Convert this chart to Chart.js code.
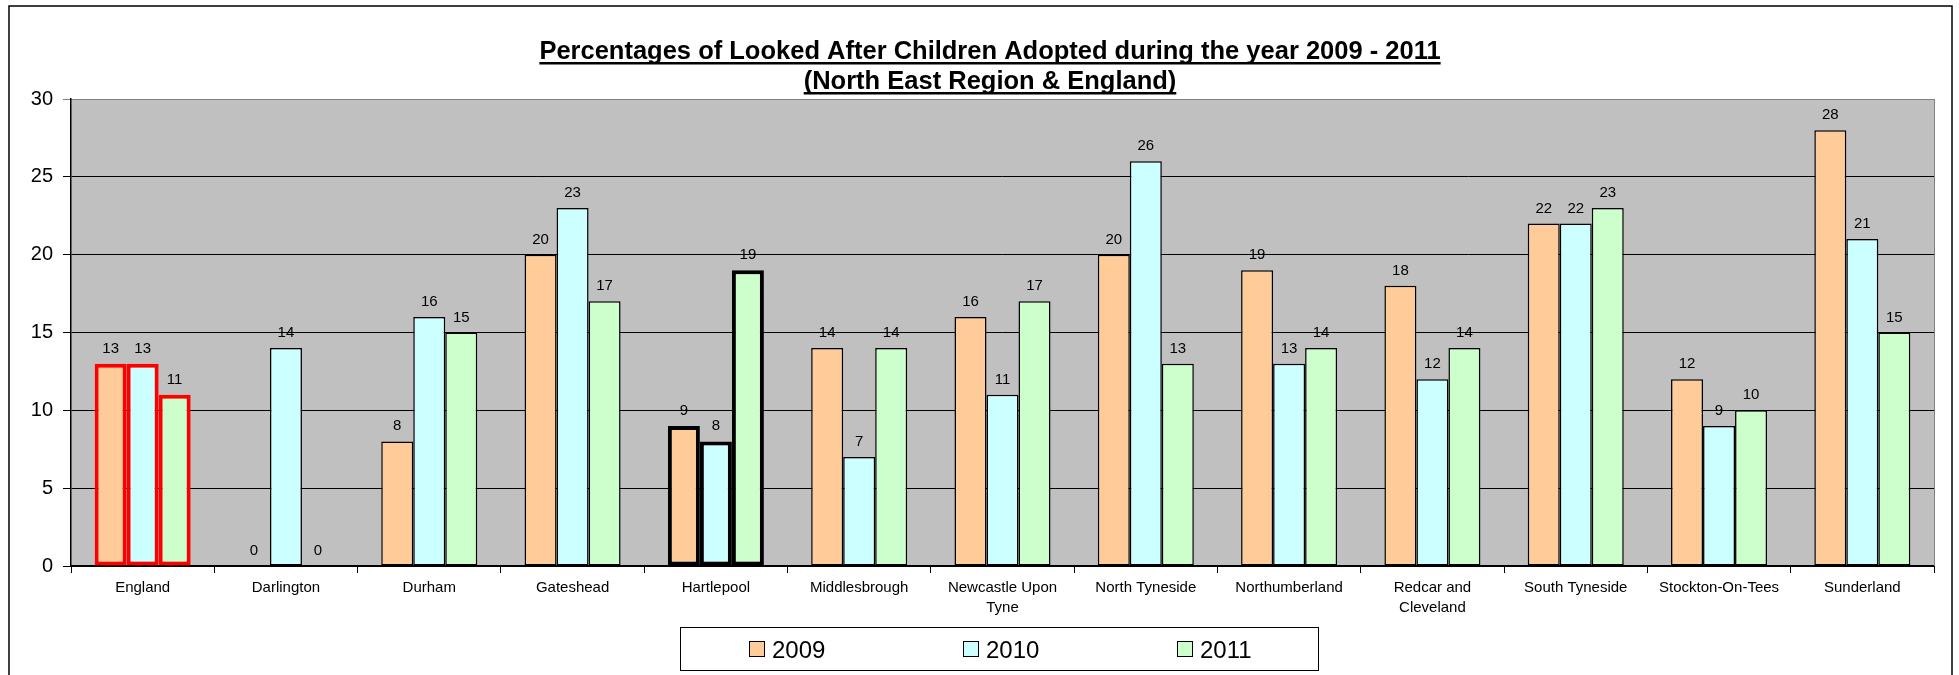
<!DOCTYPE html>
<html>
<head>
<meta charset="utf-8">
<script src="https://cdn.jsdelivr.net/npm/chart.js@4.4.1/dist/chart.umd.min.js"></script>
<style>
  html, body { margin: 0; padding: 0; background: #fff; }
  #wrap { width: 1959px; height: 675px; position: relative; }
</style>
</head>
<body>
<div id="wrap"><canvas id="chart"></canvas></div>
<script>
const areas = ['England', 'Darlington', 'Durham', 'Gateshead', 'Hartlepool', 'Middlesbrough',
  ['Newcastle Upon', 'Tyne'], 'North Tyneside', 'Northumberland', ['Redcar and', 'Cleveland'],
  'South Tyneside', 'Stockton-On-Tees', 'Sunderland'];
const years = ['2009', '2010', '2011'];
const y2009 = [13, 0, 8, 20, 9, 14, 16, 20, 19, 18, 22, 12, 28];
const y2010 = [13, 14, 16, 23, 8, 7, 11, 26, 13, 12, 22, 9, 21];
const y2011 = [11, 0, 15, 17, 19, 14, 17, 13, 14, 14, 23, 10, 15];
const yTicks = [0, 5, 10, 15, 20, 25, 30];
const titleLines = ['Percentages of Looked After Children Adopted during the year 2009 - 2011',
  '(North East Region & England)'];

const fills = ['#FFCC99', '#CCFFFF', '#CCFFCC'];
const FONT = '"Liberation Sans", Arial, sans-serif';

// England outlined red, Hartlepool outlined thick black
function edgeColors() {
  return areas.map((a, i) => i === 0 ? '#FF0000' : '#000000');
}
function edgeWidths() {
  return areas.map((a, i) => (i === 0 || i === 4) ? 4 : 1.5);
}

const frame = {
  id: 'frame',
  beforeDraw(chart) {
    const { ctx, chartArea: ca } = chart;
    ctx.save();
    ctx.fillStyle = '#C0C0C0';
    ctx.fillRect(ca.left, ca.top, ca.right - ca.left, ca.bottom - ca.top);
    ctx.restore();
  },
  afterDraw(chart) {
    const { ctx, chartArea: ca } = chart;
    ctx.save();
    // outer border
    ctx.strokeStyle = '#000';
    ctx.lineWidth = 1.5;
    ctx.strokeRect(9, 6, 1943, 700);
    // right edge of plot
    ctx.strokeStyle = '#808080';
    ctx.lineWidth = 1;
    ctx.beginPath();
    ctx.moveTo(ca.right + 0.5, ca.top);
    ctx.lineTo(ca.right + 0.5, ca.bottom);
    ctx.stroke();

    // title with underline
    ctx.fillStyle = '#000';
    ctx.font = 'bold 25.5px ' + FONT;
    ctx.textAlign = 'center';
    ctx.textBaseline = 'alphabetic';
    const cx = 990;
    const bases = [59, 89];
    titleLines.forEach((t, i) => {
      ctx.fillText(t, cx, bases[i]);
      const w = ctx.measureText(t).width;
      ctx.fillRect(cx - w / 2, bases[i] + 3, w, 2.5);
    });

    // legend
    const lx = 680, ly = 627, lw = 638, lh = 43;
    ctx.strokeStyle = '#000';
    ctx.lineWidth = 1;
    ctx.strokeRect(lx + 0.5, ly + 0.5, lw, lh);
    ctx.font = '24px ' + FONT;
    ctx.textAlign = 'left';
    ctx.textBaseline = 'alphabetic';
    const itemX = [749, 963, 1177];
    chart.data.datasets.forEach((ds, i) => {
      const mx = itemX[i];
      ctx.fillStyle = fills[i];
      ctx.fillRect(mx, 641, 15, 16);
      ctx.strokeStyle = '#000';
      ctx.strokeRect(mx + 0.5, 641.5, 15, 15);
      ctx.fillStyle = '#000';
      ctx.fillText(ds.label, mx + 23, 658);
    });
    ctx.restore();
  },
  afterDatasetsDraw(chart) {
    const { ctx } = chart;
    ctx.save();
    ctx.font = '15px ' + FONT;
    ctx.fillStyle = '#000';
    ctx.textAlign = 'center';
    ctx.textBaseline = 'alphabetic';
    chart.data.datasets.forEach((ds, di) => {
      chart.getDatasetMeta(di).data.forEach((bar, i) => {
        const v = ds.data[i];
        ctx.fillText(String(v), bar.x, bar.y - 11);
      });
    });
    ctx.restore();
  }
};

const datasets = [y2009, y2010, y2011].map((vals, i) => ({
  label: years[i],
  data: vals,
  backgroundColor: fills[i],
  borderColor: edgeColors(),
  borderWidth: edgeWidths(),
  borderSkipped: false
}));

new Chart(document.getElementById('chart'), {
  type: 'bar',
  data: { labels: areas, datasets },
  plugins: [frame],
  options: {
    responsive: true,
    maintainAspectRatio: false,
    animation: false,
    layout: { padding: { top: 99, right: 25, bottom: 0, left: 0 } },
    plugins: {
      legend: { display: false },
      title: { display: false },
      tooltip: { enabled: false }
    },
    datasets: { bar: { categoryPercentage: 0.67, barPercentage: 1.0 } },
    scales: {
      x: {
        afterFit: (s) => { s.height = 109; },
        grid: { offset: true, drawOnChartArea: false, drawTicks: true, tickLength: 7, color: '#000' },
        border: { color: '#000', width: 2 },
        ticks: { color: '#000', font: { family: FONT, size: 15, lineHeight: 1.33 }, maxRotation: 0, autoSkip: false, padding: 5 }
      },
      y: {
        min: 0,
        max: 30,
        afterFit: (s) => { s.width = 71; },
        afterBuildTicks: (s) => { s.ticks = yTicks.map(v => ({ value: v })); },
        grid: {
          color: (c) => c.tick && c.tick.value === 30 ? '#808080' : '#000',
          lineWidth: 1,
          tickLength: 8
        },
        border: { color: '#000', width: 1.5 },
        ticks: { color: '#000', font: { family: FONT, size: 20 }, padding: 10 }
      }
    }
  }
});
</script>
</body>
</html>
